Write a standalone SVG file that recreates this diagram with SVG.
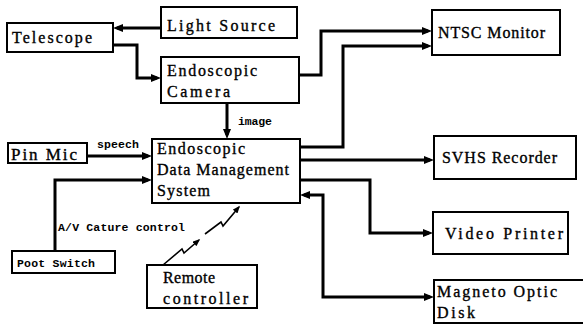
<svg xmlns="http://www.w3.org/2000/svg" width="583" height="325" viewBox="0 0 583 325">
<style>
.box{fill:#fff;stroke:#000;stroke-width:2}
.t{font-family:"Liberation Serif",serif;font-size:16px;fill:#000;stroke:#000;stroke-width:0.35}
.s{font-family:"Liberation Mono",monospace;font-size:11.5px;font-weight:bold;fill:#000}
.c{fill:none;stroke:#000;stroke-width:3;stroke-linejoin:miter}
.z{fill:none;stroke:#000;stroke-width:1.6}
</style>
<defs>
<marker id="a" viewBox="0 0 10 8" refX="6" refY="4" markerWidth="11" markerHeight="8" markerUnits="userSpaceOnUse" orient="auto-start-reverse">
<path d="M0,0 L10,4 L0,8 z" fill="#000"/>
</marker>
<marker id="b" viewBox="0 0 10 8" refX="8" refY="4" markerWidth="8" markerHeight="6" markerUnits="userSpaceOnUse" orient="auto">
<path d="M0,0 L10,4 L0,8 z" fill="#000"/>
</marker>
</defs>
<rect width="583" height="325" fill="#fff"/>
<g id="connectors">
<path class="c" d="M161,28 H117" marker-end="url(#a)"/>
<path class="c" d="M113,45 H137 V78 H157" marker-end="url(#a)"/>
<path class="c" d="M299,75 H321 V31 H428" marker-end="url(#a)"/>
<path class="c" d="M300,147 H343 V46 H428" marker-end="url(#a)"/>
<path class="c" d="M300,160 H430" marker-end="url(#a)"/>
<path class="c" d="M300,180 H370 V233 H429" marker-end="url(#a)"/>
<path class="c" d="M304,195 H323 V297 H430" marker-start="url(#a)" marker-end="url(#a)"/>
<path class="c" d="M227,103 V135" marker-end="url(#a)"/>
<path class="c" d="M87,156 H148" marker-end="url(#a)"/>
<path class="c" d="M55,251 V180 H148" marker-end="url(#a)"/>
<path class="z" d="M163,265 L182,249 L184,253 L199,240" marker-end="url(#b)"/>
<path class="z" d="M205,234 L221,222 L223,226 L239,207" marker-end="url(#b)"/>
<text class="s" x="97" y="148" textLength="42">speech</text>
<text class="s" x="238" y="125" textLength="34">image</text>
<text class="s" x="58" y="231" textLength="127">A/V Cature control</text>
</g>
<g id="light-source"><rect class="box" x="161" y="7" width="136" height="31"/><text class="t" x="167" y="31" textLength="108">Light Source</text></g>
<g id="telescope"><rect class="box" x="7" y="23" width="106" height="29"/><text class="t" x="12" y="43" textLength="80">Telescope</text></g>
<g id="camera"><rect class="box" x="161" y="57" width="138" height="46"/><text class="t" x="167" y="76" textLength="90">Endoscopic</text><text class="t" x="167" y="97" textLength="63">Camera</text></g>
<g id="ntsc"><rect class="box" x="432" y="10" width="128" height="45"/><text class="t" x="438" y="38" textLength="107">NTSC Monitor</text></g>
<g id="pin-mic"><rect class="box" x="8" y="143" width="79" height="20"/><text class="t" x="11" y="160" textLength="66" style="font-size:17px">Pin Mic</text></g>
<g id="edms"><rect class="box" x="152" y="139" width="148" height="64"/><text class="t" x="157" y="154" textLength="88">Endoscopic</text><text class="t" x="157" y="175" textLength="132">Data Management</text><text class="t" x="157" y="196" textLength="53">System</text></g>
<g id="svhs"><rect class="box" x="434" y="136" width="142" height="43"/><text class="t" x="442" y="163" textLength="115">SVHS Recorder</text></g>
<g id="video-printer"><rect class="box" x="433" y="212" width="135" height="42"/><text class="t" x="445" y="239" textLength="118">Video Printer</text></g>
<g id="mo-disk"><rect class="box" x="434" y="280" width="160" height="43"/><text class="t" x="437" y="297" textLength="120">Magneto Optic</text><text class="t" x="437" y="318" textLength="38">Disk</text></g>
<g id="foot-switch"><rect class="box" x="12" y="251" width="103" height="22"/><text class="s" x="17" y="267" textLength="78">Poot Switch</text></g>
<g id="remote"><rect class="box" x="147" y="265" width="110" height="43"/><text class="t" x="163" y="283" textLength="52">Remote</text><text class="t" x="163" y="304" textLength="85">controller</text></g>
</svg>
